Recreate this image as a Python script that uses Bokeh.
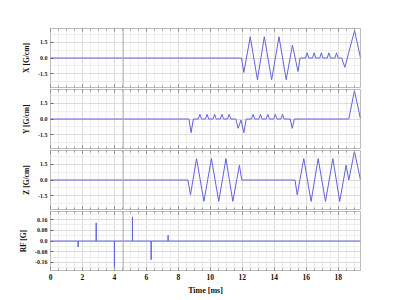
import numpy as np
from bokeh.plotting import figure
from bokeh.layouts import column
from bokeh.models import Range1d, FixedTicker, LinearAxis, Span, CustomJSTickFormatter
from bokeh.embed import file_html
from bokeh.resources import INLINE

# ---- data ----
x_t = [0, 11.95, 12.1, 12.5, 12.95, 13.38, 13.84, 14.3, 14.75, 15.14, 15.49, 15.62,
       15.96, 16.06, 16.16, 16.4, 16.5, 16.6, 16.85, 16.95, 17.05, 17.32, 17.42, 17.52,
       17.8, 17.9, 18.0, 18.22, 18.42, 19.03, 19.4]
x_v = [0, 0, -1.4, 2.05, -2.1, 2.05, -2.1, 2.05, -2.1, 1.25, -1.3, 0,
       0, 0.5, 0, 0, 0.5, 0, 0, 0.5, 0, 0, 0.5, 0,
       0, 0.5, 0, 0, -0.9, 2.65, 0]

y_t = [0, 8.66, 8.8, 8.94,
       9.25, 9.35, 9.45, 9.7, 9.8, 9.9, 10.17, 10.27, 10.37, 10.63, 10.73, 10.83, 11.08, 11.18, 11.28,
       11.6, 11.74, 11.92, 12.1, 12.25,
       12.58, 12.68, 12.78, 13.04, 13.14, 13.24, 13.5, 13.6, 13.7, 13.97, 14.07, 14.17, 14.42, 14.52, 14.62,
       15.0, 15.13, 15.26, 18.67, 19.02, 19.4]
y_v = [0, 0, -1.32, 0,
       0, 0.45, 0, 0, 0.45, 0, 0, 0.45, 0, 0, 0.45, 0, 0, 0.45, 0,
       0, -0.9, -0.1, -1.32, 0,
       0, 0.45, 0, 0, 0.45, 0, 0, 0.45, 0, 0, 0.45, 0, 0, 0.45, 0,
       0, -0.9, 0, 0, 2.75, 0]

z_t = [0, 8.6, 8.76, 9.14, 9.6, 10.07, 10.53, 10.98, 11.41, 11.82, 11.97,
       15.3, 15.44, 15.85, 16.31, 16.75, 17.21, 17.67, 18.1, 18.5, 18.67, 19.02, 19.4]
z_v = [0, 0, -1.43, 2.07, -2.07, 2.07, -2.07, 2.07, -2.07, 1.43, 0,
       0, -1.43, 2.07, -2.07, 2.07, -2.07, 2.07, -2.07, 1.43, 0, 2.77, 0]

rf_t = [1.73, 2.86, 4.0, 5.13, 6.3, 7.36]
rf_a = [-0.045, 0.135, -0.195, 0.18, -0.14, 0.043]
t_end = 19.4
marker_t = 4.55

grad_ticks = [-1.5, 0.0, 1.5]
grad_labels = ["-1.5", "0.0", "1.5"]
rf_ticks = [-0.16, -0.08, 0.0, 0.08, 0.16]
rf_labels = ["-0.16", "-0.08", "0.0", "0.08", "0.16"]
time_ticks = [0, 2, 4, 6, 8, 10, 12, 14, 16, 18]

# ---- styling ----
LINE = "#6262dc"
FONT = "Liberation Serif"
W = 400
FH = 59


def make_panel(label, ticks, labels, minor, yr, top, bottom, last=False):
    p = figure(width=W, height=top + FH + bottom, output_backend="svg",
               toolbar_location=None, x_range=Range1d(0, t_end), y_range=Range1d(-yr, yr),
               min_border_left=50, min_border_right=40, min_border_top=top,
               min_border_bottom=bottom, x_axis_location=None, y_axis_location=None)
    p.outline_line_color = "#bbbbbb"
    p.background_fill_color = "white"
    p.border_fill_color = "white"
    xt = FixedTicker(ticks=time_ticks, minor_ticks=list(np.arange(0, 19.51, 0.5)))
    yt = FixedTicker(ticks=ticks, minor_ticks=minor)
    # left axis
    ya = LinearAxis(ticker=yt, axis_label=label)
    ya.major_label_overrides = {t: s for t, s in zip(ticks, labels)}
    ya.axis_line_color = None
    ya.major_tick_in = 3
    ya.major_tick_out = 0
    ya.minor_tick_in = 0
    ya.minor_tick_out = 0
    ya.major_tick_line_color = "#666666"
    ya.major_label_text_font = FONT
    ya.major_label_text_font_style = "bold"
    ya.major_label_text_font_size = "6px"
    ya.major_label_text_color = "#222222"
    ya.major_label_standoff = 3
    ya.axis_label_text_font = FONT
    ya.axis_label_text_font_style = "bold"
    ya.axis_label_text_font_size = "7.5px"
    ya.axis_label_text_color = "#111111"
    ya.axis_label_standoff = 4
    p.add_layout(ya, "left")
    # top and bottom tick marks (no labels)
    locs = ["above"] if last else ["above", "below"]
    for loc in locs:
        a = LinearAxis(ticker=xt, formatter=CustomJSTickFormatter(code="return ''"))
        a.axis_line_color = None
        a.major_tick_in = 3
        a.major_tick_out = 0
        a.minor_tick_in = 2
        a.minor_tick_out = 0
        a.major_tick_line_color = "#777777"
        a.minor_tick_line_color = "#999999"
        a.major_label_text_font_size = "1px"
        a.major_label_standoff = 0
        p.add_layout(a, loc)
    if last:
        a = LinearAxis(ticker=xt, axis_label="Time [ms]")
        a.axis_line_color = None
        a.major_tick_in = 3
        a.major_tick_out = 0
        a.minor_tick_in = 2
        a.minor_tick_out = 0
        a.major_tick_line_color = "#777777"
        a.minor_tick_line_color = "#999999"
        a.major_label_text_font = FONT
        a.major_label_text_font_style = "bold"
        a.major_label_text_font_size = "7.5px"
        a.major_label_text_color = "#111111"
        a.major_label_standoff = 3
        a.axis_label_text_font = FONT
        a.axis_label_text_font_style = "bold"
        a.axis_label_text_font_size = "8px"
        a.axis_label_text_color = "#111111"
        a.axis_label_standoff = 3
        p.add_layout(a, "below")
    # grids
    p.xgrid.ticker = xt
    p.ygrid.ticker = yt
    for g in (p.xgrid[0], p.ygrid[0]):
        g.grid_line_color = "#dcdcdc"
        g.grid_line_width = 1
        g.minor_grid_line_color = "#eeeeee"
        g.minor_grid_line_width = 1
    p.add_layout(Span(location=marker_t, dimension="height", line_color="#b0b0b0", line_width=1))
    return p


gminor = [-2.25, -0.75, 0.75, 2.25]
p1 = make_panel("X [G/cm]", grad_ticks, grad_labels, gminor, 2.85, 28, 1)
p1.line(x_t, x_v, line_color=LINE, line_width=1)
p2 = make_panel("Y [G/cm]", grad_ticks, grad_labels, gminor, 2.85, 1, 1)
p2.line(y_t, y_v, line_color=LINE, line_width=1)
p3 = make_panel("Z [G/cm]", grad_ticks, grad_labels, gminor, 2.85, 1, 1)
p3.line(z_t, z_v, line_color=LINE, line_width=1)
p4 = make_panel("RF [G]", rf_ticks, rf_labels, [-0.2, -0.12, -0.04, 0.04, 0.12, 0.2], 0.22, 1, 30, last=True)

# RF waveform: baseline with vertical spikes
rt = [0.0]
rv = [0.0]
for t, a in zip(rf_t, rf_a):
    rt += [t, t, t]
    rv += [0.0, a, 0.0]
rt.append(t_end)
rv.append(0.0)
p4.line(rt, rv, line_color=LINE, line_width=1)

layout = column(p1, p2, p3, p4, spacing=0)
open("out.html", "w").write(file_html(layout, INLINE))
